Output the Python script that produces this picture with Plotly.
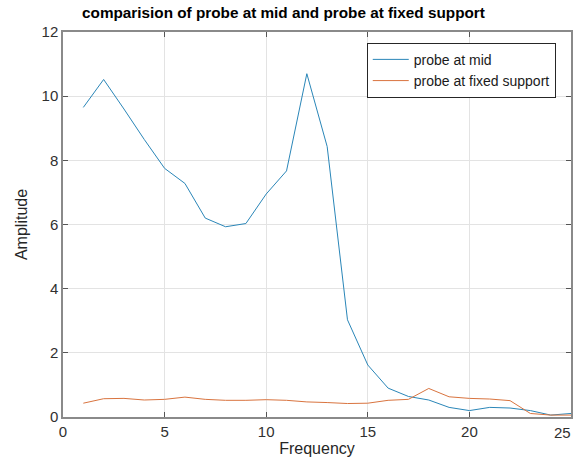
import plotly.graph_objects as go

freq = list(range(1, 26))
probe_mid = [9.65, 10.52, 9.6, 8.65, 7.75, 7.28, 6.2, 5.93, 6.03, 6.95, 7.67, 10.7, 8.43,
             3.03, 1.62, 0.9, 0.64, 0.53, 0.3, 0.2, 0.3, 0.28, 0.2, 0.06, 0.11]
probe_fixed = [0.43, 0.57, 0.58, 0.53, 0.55, 0.62, 0.55, 0.52, 0.52, 0.54, 0.52, 0.47, 0.45,
               0.42, 0.43, 0.52, 0.55, 0.89, 0.63, 0.58, 0.56, 0.51, 0.11, 0.06, 0.06]
x_ticks = [0, 5, 10, 15, 20, 25]
y_ticks = [0, 2, 4, 6, 8, 10, 12]

fig = go.Figure()
fig.add_trace(go.Scatter(x=freq, y=probe_mid, mode="lines", name="probe at mid",
                         line=dict(color="#2a86b8", width=1)))
fig.add_trace(go.Scatter(x=freq, y=probe_fixed, mode="lines", name="probe at fixed support",
                         line=dict(color="#d9743f", width=1)))

font = "Liberation Sans, Arial, Helvetica, sans-serif"
tick_font = dict(family=font, size=15, color="#303030")
axis_common = dict(
    showline=True, linecolor="#8a8a8a", linewidth=1.5, mirror="ticks",
    ticks="inside", ticklen=5, tickcolor="#555555",
    showgrid=True, gridcolor="#e3e3e3", gridwidth=1, zeroline=False,
    tickfont=tick_font,
)
fig.update_xaxes(range=[0, 25], tickvals=x_ticks,
                 title=dict(text="Frequency", font=dict(family=font, size=16, color="#262626"), standoff=4),
                 **axis_common)
fig.update_yaxes(range=[0, 12], tickvals=y_ticks,
                 title=dict(text="Amplitude", font=dict(family=font, size=16, color="#262626"), standoff=10),
                 **axis_common)

# last x tick label at the right edge, kept inside the window
fig.add_annotation(x=x_ticks[-1], y=0, xref="x", yref="paper", text=str(x_ticks[-1]),
                   showarrow=False, xanchor="right", yanchor="top", yshift=-5, xshift=2,
                   font=tick_font)

fig.update_layout(
    width=575, height=465,
    margin=dict(l=63, r=2, t=32, b=48),
    paper_bgcolor="white", plot_bgcolor="white",
    title=dict(text="<b>comparision of probe at mid and probe at fixed support</b>",
               x=0.434, xref="paper", xanchor="center", y=0.972, yanchor="middle",
               font=dict(family=font, size=15.3, color="black")),
    legend=dict(x=0.97, y=0.972, xanchor="right", yanchor="top",
                bgcolor="white", bordercolor="#262626", borderwidth=1,
                font=dict(family=font, size=14, color="#1a1a1a"),
                tracegroupgap=0, itemwidth=36),
    showlegend=True,
)

fig.write_html("out.html")
